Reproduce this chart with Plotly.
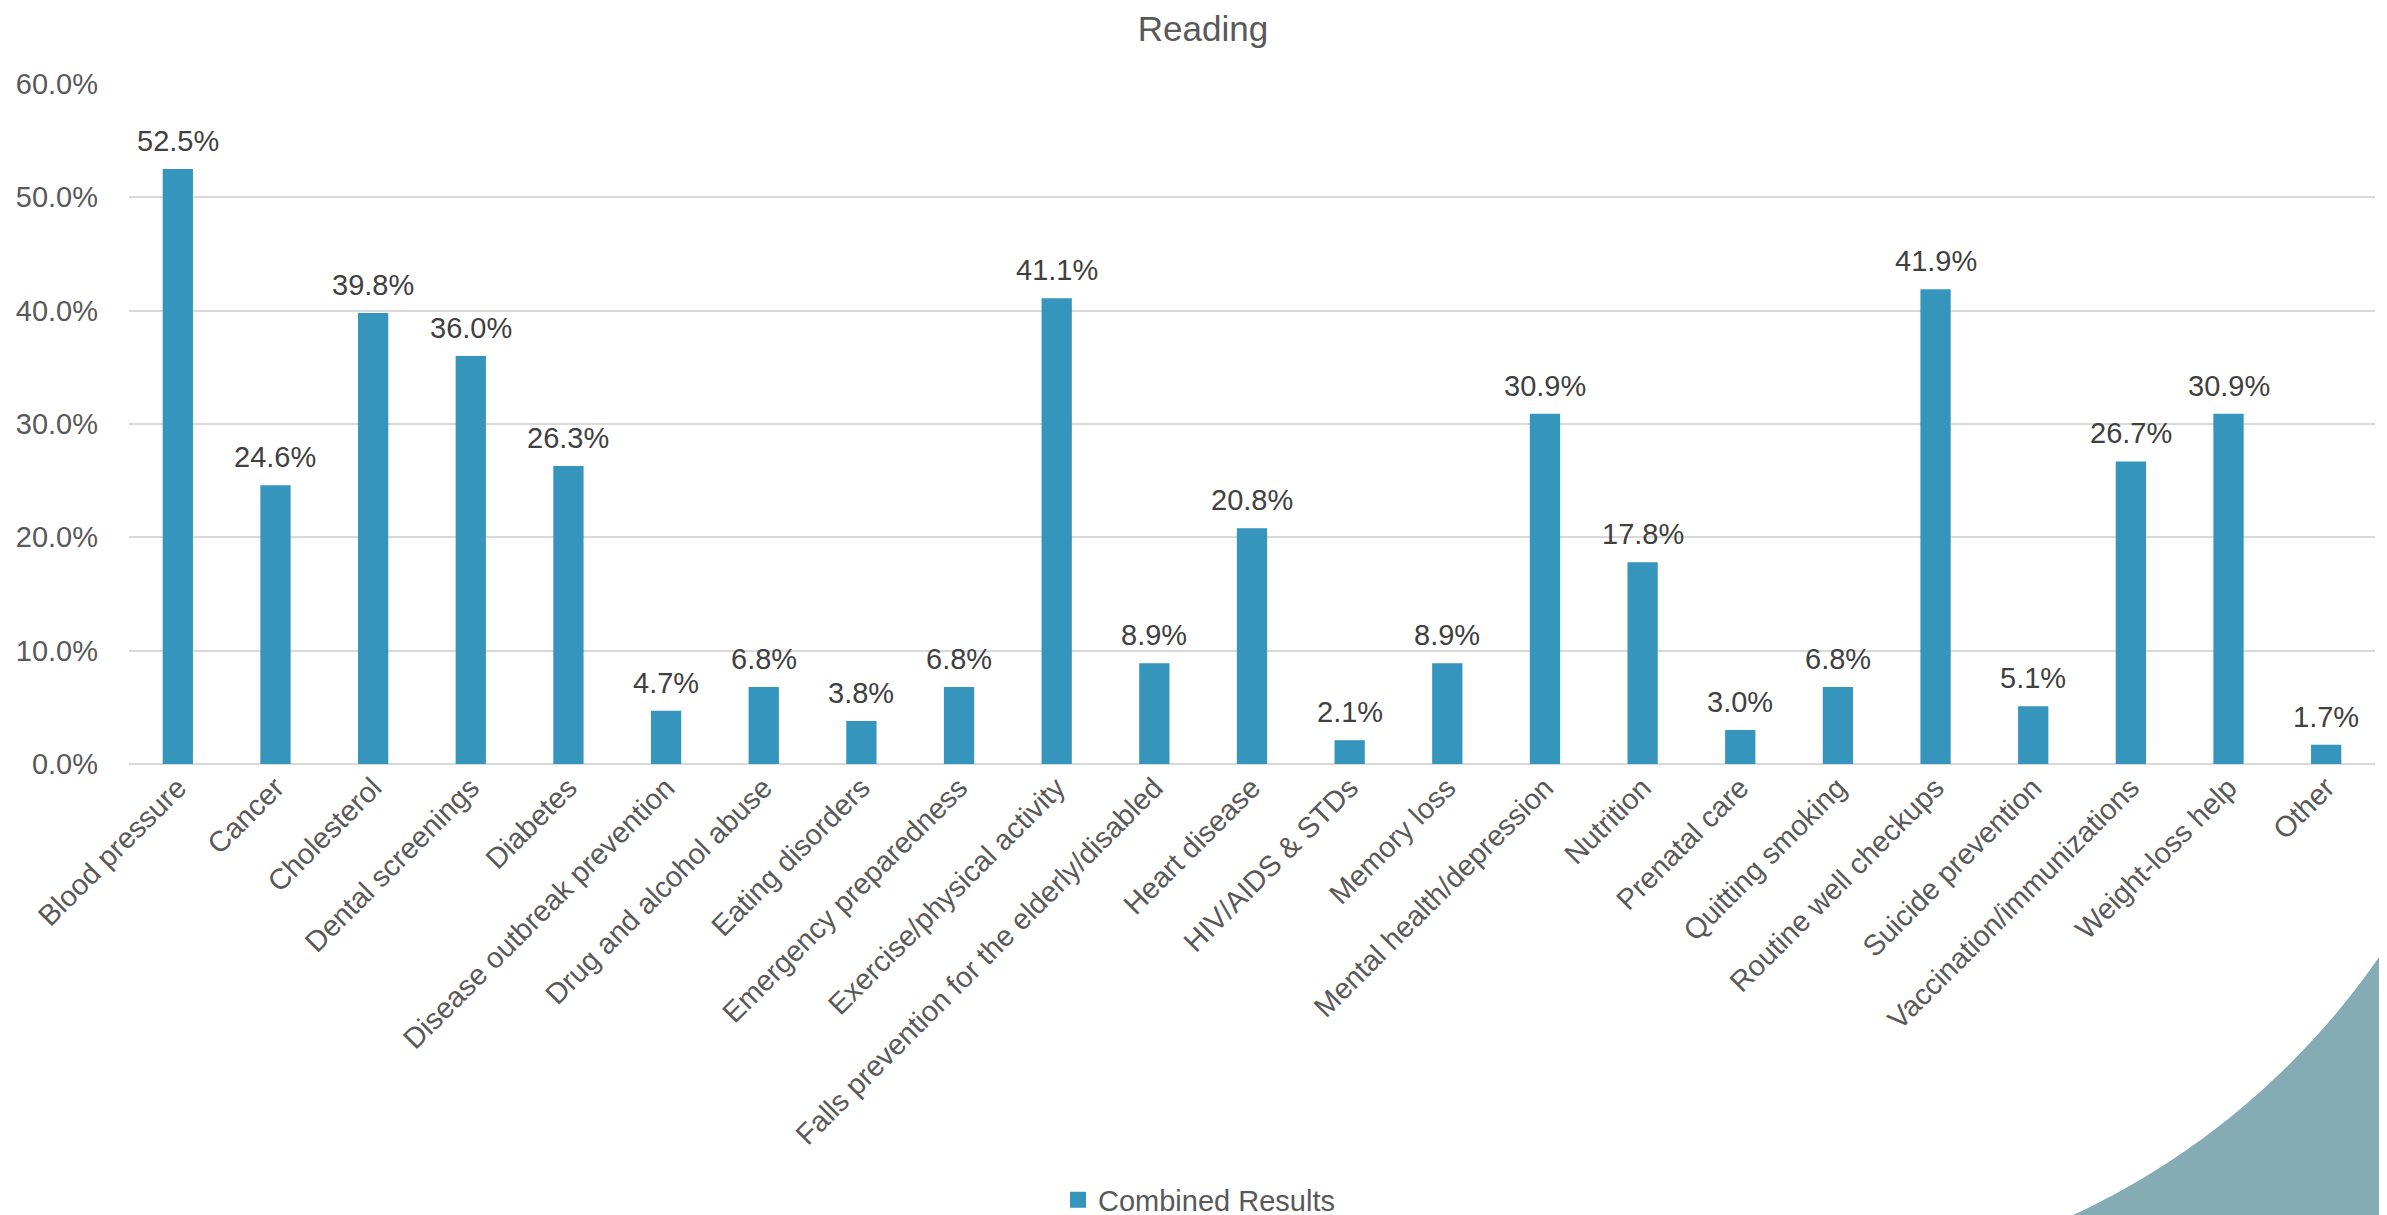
import numpy as np
import plotly.graph_objects as go

W, H = 2387, 1215
categories = ["Blood pressure", "Cancer", "Cholesterol", "Dental screenings", "Diabetes",
              "Disease outbreak prevention", "Drug and alcohol abuse", "Eating disorders",
              "Emergency preparedness", "Exercise/physical activity",
              "Falls prevention for the elderly/disabled", "Heart disease", "HIV/AIDS & STDs",
              "Memory loss", "Mental health/depression", "Nutrition", "Prenatal care",
              "Quitting smoking", "Routine well checkups", "Suicide prevention",
              "Vaccination/immunizations", "Weight-loss help", "Other"]
values = [0.525, 0.246, 0.398, 0.360, 0.263, 0.047, 0.068, 0.038, 0.068, 0.411, 0.089, 0.208,
          0.021, 0.089, 0.309, 0.178, 0.030, 0.068, 0.419, 0.051, 0.267, 0.309, 0.017]
series_name = "Combined Results"
title_text = "Reading"

FONT = "Liberation Sans, Arial, sans-serif"
BAR = "#3595BC"
TEAL = "#85ABB5"

ml, mr, mt, mb = 121, 20, 76, 459
pw, ph = W - ml - mr, H - mt - mb

def px2paper_x(px):
    return (px - ml) / pw

def px2paper_y(py):
    return (H - mb - py) / ph

fig = go.Figure()
fig.add_trace(go.Bar(x=categories, y=values, name=series_name,
                     marker=dict(color=BAR, line=dict(width=0)), showlegend=False))
# legend entry (square marker like the reference)
fig.add_trace(go.Scatter(x=[None], y=[None], mode="markers", name=series_name,
                         marker=dict(symbol="square", size=16, color=BAR), showlegend=True))

for c, v in zip(categories, values):
    fig.add_annotation(x=c, y=v, text=f"{v*100:.1f}%", showarrow=False, yanchor="bottom",
                       yshift=10, font=dict(family=FONT, size=29, color="#404040"))

# decorative corner shape: teal region outside a large circle (drawn as a polygon path)
cx, cy, r = 1744, 516, 762
ang = np.radians(np.linspace(28, 72, 90))
pts = [(cx + r * np.cos(a), cy + r * np.sin(a)) for a in ang]
path = "M{:.5f},{:.5f} ".format(px2paper_x(W + 10), px2paper_y(pts[0][1]))
path += " ".join("L{:.5f},{:.5f}".format(px2paper_x(x), px2paper_y(y)) for x, y in pts)
path += " L{:.5f},{:.5f} L{:.5f},{:.5f} Z".format(px2paper_x(pts[-1][0]), px2paper_y(H + 10),
                                                  px2paper_x(W + 10), px2paper_y(H + 10))
fig.add_shape(type="path", xref="paper", yref="paper", layer="below", path=path,
              fillcolor=TEAL, line=dict(width=0))

fig.update_layout(
    width=W, height=H,
    margin=dict(l=ml, r=mr, t=mt, b=mb, autoexpand=False),
    paper_bgcolor="white", plot_bgcolor="rgba(0,0,0,0)",
    bargap=0.69,
    title=dict(text=title_text, x=1195 / W, xref="container", xanchor="center", y=1 - 21 / H,
               yanchor="middle", font=dict(family=FONT, size=35, color="#595959")),
    font=dict(family=FONT, size=29, color="#595959"),
    legend=dict(orientation="h", x=px2paper_x(1191), xanchor="center", y=px2paper_y(1192),
                yanchor="middle", font=dict(family=FONT, size=29, color="#595959"),
                bgcolor="rgba(0,0,0,0)", itemwidth=30),
    xaxis=dict(tickangle=-45, showgrid=False, showline=False, ticks="",
               tickfont=dict(family=FONT, size=29, color="#595959")),
    yaxis=dict(range=[0, 0.6], dtick=0.1, tickformat=".1%", showgrid=True, gridcolor="#D9D9D9",
               gridwidth=1.5, zeroline=True, zerolinecolor="#D9D9D9", zerolinewidth=1.5,
               ticks="", ticklabelstandoff=30,
               tickfont=dict(family=FONT, size=29, color="#595959")),
)

fig.write_html("out.html")
